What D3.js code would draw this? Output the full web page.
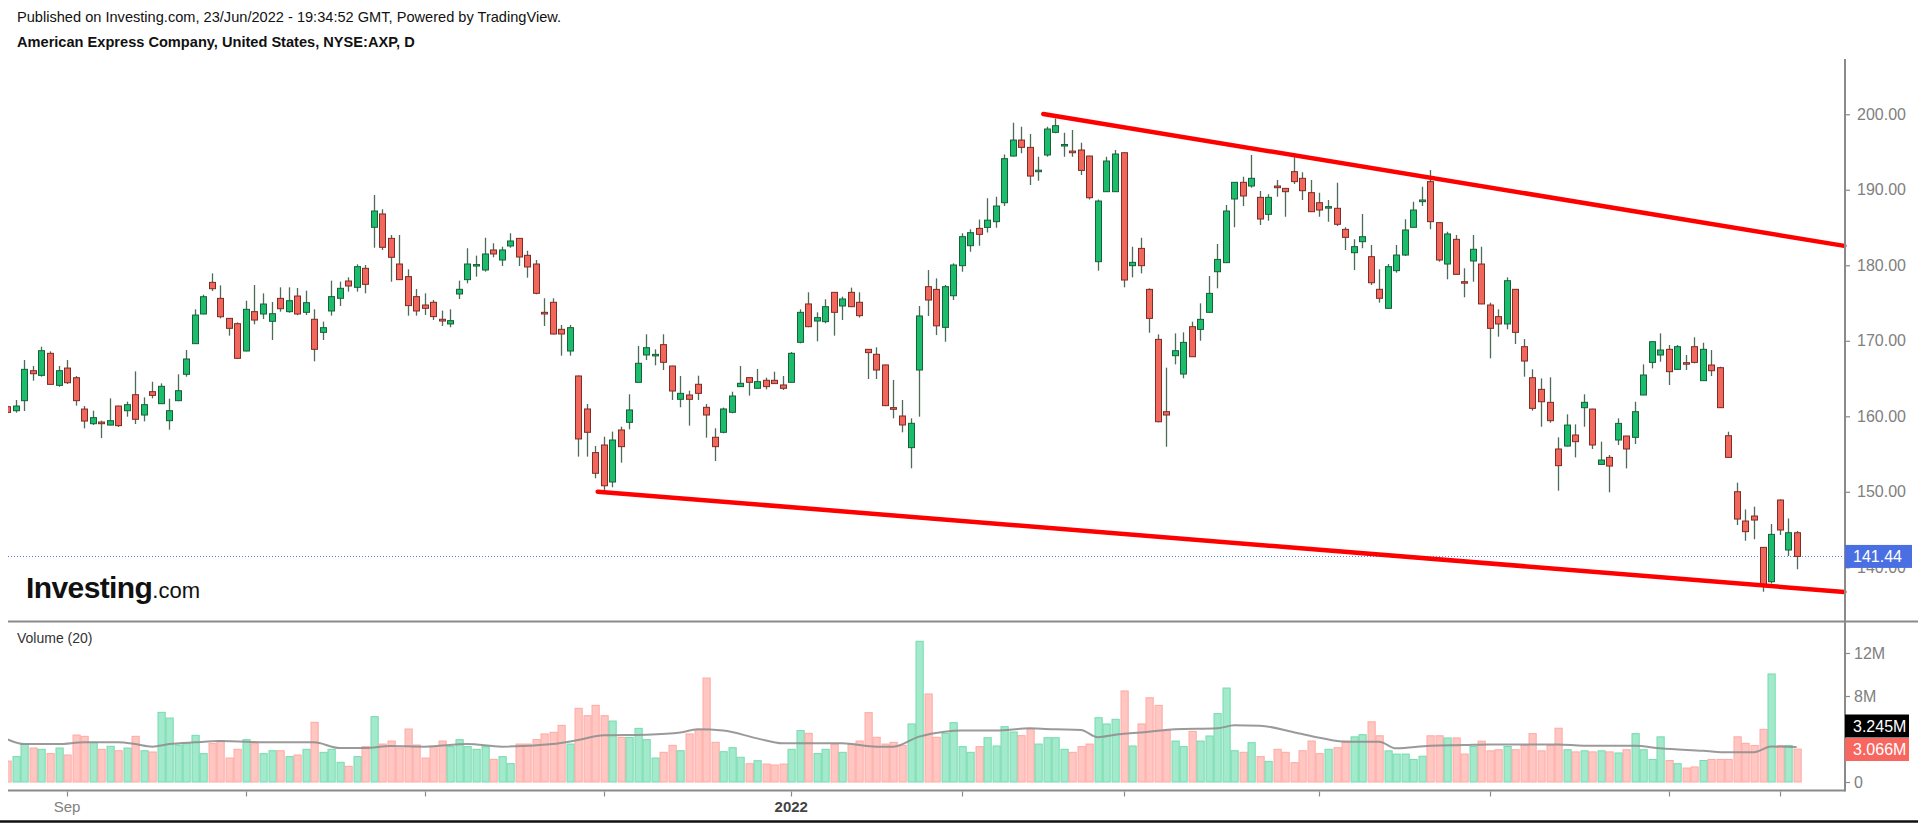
<!DOCTYPE html>
<html><head><meta charset="utf-8">
<script src="https://cdn.jsdelivr.net/npm/d3@7"></script>
<style>
html,body{margin:0;padding:0;background:#fff;overflow:hidden;}
svg{display:block;font-family:"Liberation Sans",Arial,sans-serif;}
</style></head><body>
<svg id="chart" width="1918" height="824"></svg>
<script>
// ---- DATA (daily bars, 23 Aug 2021 .. 23 Jun 2022) ----
const opens = [161.27,160.74,162.07,166.04,165.42,168.34,164.10,166.39,165.11,160.96,
159.02,159.24,158.84,161.36,160.74,162.86,160.17,163.26,161.67,159.42,
162.07,165.56,169.62,173.55,177.74,175.62,172.97,172.27,168.65,173.86,
173.55,172.58,175.62,173.86,175.93,173.77,172.85,171.12,173.95,175.63,
177.92,177.08,179.60,185.03,186.80,183.57,180.17,178.50,175.85,174.74,
175.10,172.85,172.23,176.20,178.10,180.00,179.38,182.03,180.70,182.56,
183.57,181.32,180.17,173.77,175.10,171.52,168.65,165.34,160.97,155.19,
156.20,151.30,158.19,159.20,164.50,168.12,168.00,169.49,166.66,162.25,
162.82,164.24,161.19,157.22,157.88,160.53,163.93,165.12,163.71,164.77,
164.77,164.15,164.50,169.80,174.88,172.62,172.54,176.42,174.61,176.42,
175.10,168.87,168.21,166.80,161.15,160.04,155.85,166.13,177.17,176.81,
171.78,175.97,179.95,182.60,184.89,185.02,185.78,188.29,194.47,196.59,
195.62,192.40,194.61,197.61,195.80,195.13,195.27,194.47,180.48,189.75,
189.75,194.91,179.95,182.24,176.81,170.19,160.61,168.03,165.60,171.87,
171.51,173.77,179.15,180.35,188.78,190.99,190.50,189.00,186.75,190.50,
190.19,192.40,191.52,189.62,188.29,187.65,187.55,184.76,181.67,183.13,
181.14,176.82,174.30,179.29,181.36,185.03,188.43,191.08,185.65,180.17,
183.44,177.83,180.57,180.17,174.74,173.20,172.23,176.82,169.22,165.11,
163.57,161.85,155.67,156.06,157.52,161.14,160.96,153.63,154.56,156.86,
157.39,157.21,162.82,167.14,168.12,168.87,166.22,167.10,169.22,164.72,
166.79,166.44,157.43,150.01,146.13,146.79,142.64,138.09,148.91,142.29,
144.58];
const highs = [161.45,162.16,167.45,166.66,169.22,168.60,166.66,167.45,165.33,161.36,
160.74,159.42,162.38,161.40,161.94,165.95,162.51,164.58,164.36,162.33,
165.56,168.78,174.17,176.11,178.93,177.34,173.00,172.44,175.31,177.39,
176.28,175.14,177.08,177.08,177.00,176.64,174.17,172.54,177.97,177.83,
178.41,180.13,180.04,189.31,187.41,184.02,184.02,179.47,176.86,176.29,
175.41,174.00,174.17,177.97,182.25,181.28,183.66,182.91,182.47,184.24,
183.60,181.94,180.70,175.63,175.63,172.10,172.10,165.40,161.63,156.07,
157.30,157.97,158.63,162.91,169.31,170.86,168.87,170.86,166.70,165.34,
163.40,165.38,161.63,158.41,161.15,163.26,166.66,165.20,166.27,165.12,
165.91,165.34,168.52,174.17,176.42,173.77,175.50,176.45,175.85,177.04,
176.42,168.90,169.14,166.85,164.81,162.16,159.73,174.61,179.37,178.27,
177.39,180.26,184.23,184.76,186.08,188.87,189.09,194.69,198.89,198.36,
197.39,194.39,198.36,199.46,197.56,197.92,196.24,194.50,188.73,194.39,
195.27,194.95,182.46,183.66,176.95,170.85,166.44,170.98,171.12,172.53,
174.96,178.58,182.82,187.99,191.00,191.74,194.61,189.84,189.40,191.30,
190.20,194.30,192.31,191.30,189.62,188.65,190.95,185.03,183.44,186.79,
182.69,179.47,180.17,182.69,186.09,188.43,190.41,192.62,185.70,184.46,
184.01,179.60,184.01,182.47,175.05,174.17,178.41,176.85,170.23,166.22,
165.02,165.16,157.21,160.26,158.93,162.91,161.00,156.64,154.87,159.73,
157.40,161.93,166.88,169.90,170.98,169.44,169.44,168.12,170.46,169.75,
168.78,166.57,157.96,151.21,147.67,148.03,142.70,145.73,149.00,146.48,
144.80];
const lows = [160.35,160.48,160.70,164.72,165.25,164.20,163.92,164.28,161.41,158.40,
158.85,157.12,158.80,158.58,159.95,158.98,159.33,162.38,161.63,158.23,
162.00,165.25,169.60,173.50,176.59,172.97,170.68,167.60,168.60,172.18,
172.88,170.10,173.86,173.72,173.40,173.42,167.28,170.11,173.33,174.61,
176.51,176.51,176.29,182.34,182.03,177.83,178.05,173.33,173.33,173.42,
172.76,171.96,171.79,175.54,177.61,178.50,179.16,181.06,179.91,182.34,
179.91,178.36,176.16,171.96,170.85,168.03,168.03,154.66,154.66,151.79,
150.02,150.60,153.86,158.28,164.50,167.46,166.75,166.13,162.16,161.19,
158.76,162.16,157.17,154.08,157.75,160.40,163.90,162.74,163.70,163.57,
164.30,163.49,164.50,169.67,171.80,169.93,172.32,170.68,172.76,174.45,
173.07,164.94,164.94,161.35,159.73,157.88,153.11,159.95,173.28,170.76,
169.88,175.40,179.15,181.80,182.60,184.36,184.98,187.85,194.40,194.83,
190.63,191.20,194.39,197.48,194.39,194.39,191.96,188.73,179.28,189.70,
189.70,177.08,178.40,178.93,171.07,159.20,155.97,166.88,165.03,167.85,
170.01,173.75,176.95,180.30,185.03,187.85,190.28,185.34,185.91,189.09,
186.44,190.77,188.65,187.05,186.44,185.78,185.21,182.03,179.38,182.25,
177.39,175.05,174.28,179.02,181.23,185.00,187.85,184.76,180.48,178.14,
178.75,175.76,177.83,174.85,167.68,170.55,171.52,169.58,165.25,160.74,
158.62,159.15,150.15,156.00,154.56,158.62,155.67,153.60,149.93,156.20,
153.10,156.33,162.80,166.35,167.23,164.14,166.13,166.13,167.01,164.70,
165.33,161.10,154.50,145.60,143.52,143.70,136.77,137.87,144.27,141.49,
139.73];
const closes = [160.52,161.36,166.22,165.64,168.69,164.23,166.04,164.45,162.07,159.37,
159.82,159.02,159.42,158.76,161.54,159.60,161.54,162.77,163.97,160.74,
163.39,167.59,173.41,175.84,176.90,173.19,171.65,167.68,174.17,172.75,
174.87,173.59,174.25,175.31,173.55,175.05,168.87,171.74,175.85,176.95,
177.26,179.82,177.48,187.19,182.38,181.06,178.10,174.66,173.95,174.30,
173.20,172.62,172.67,176.82,180.17,180.10,181.50,181.50,182.03,183.22,
181.10,179.78,176.29,173.55,170.90,170.90,171.74,157.00,157.88,152.45,
150.80,156.86,155.98,160.84,167.02,169.09,168.20,167.15,163.35,163.04,
162.25,163.04,160.17,155.98,160.97,162.69,164.37,164.50,164.59,163.93,
164.33,163.71,168.34,173.77,171.87,173.07,174.52,173.77,175.54,174.52,
173.33,168.43,166.13,161.41,160.93,158.85,159.07,173.29,175.40,171.98,
177.17,180.04,183.79,184.32,184.10,185.98,187.85,194.12,196.59,195.62,
191.82,192.60,198.05,198.49,196.00,194.91,192.57,188.95,188.51,193.81,
194.74,178.05,180.39,179.95,172.97,159.28,160.17,168.69,169.79,167.89,
172.84,176.28,180.78,187.19,190.99,189.18,191.52,186.13,189.00,190.28,
189.75,191.08,189.88,187.10,187.32,187.77,185.43,183.70,182.47,183.79,
177.69,175.63,179.82,181.36,184.68,187.32,188.65,185.78,180.70,184.15,
178.80,177.65,182.12,174.88,171.65,172.23,177.96,171.12,167.32,161.05,
161.93,159.42,153.46,158.84,156.64,161.85,156.20,154.21,153.41,159.06,
155.67,160.61,165.47,169.88,168.78,165.91,169.22,166.92,167.14,168.87,
166.04,161.14,154.56,146.39,144.72,146.26,137.52,144.36,144.94,144.58,
141.44];
// volume in millions
const volumes = [1.95,2.36,3.53,3.16,3.04,2.64,3.16,2.51,4.37,4.25,
3.69,3.04,3.32,2.91,3.16,4.25,2.91,2.79,6.48,5.95,
3.44,3.57,4.34,2.64,3.57,3.81,2.23,3.04,3.94,3.57,
2.64,2.91,2.91,2.36,2.51,3.04,5.55,2.76,3.04,1.83,
1.46,2.36,3.29,6.08,3.53,3.81,3.16,4.93,3.44,2.23,
3.29,3.81,3.29,3.94,3.29,3.04,3.29,2.11,2.36,1.71,
3.53,3.53,3.94,4.47,4.62,5.27,3.53,6.85,6.17,7.13,
6.17,5.67,4.15,4.15,4.99,3.94,2.23,2.76,3.41,2.91,
4.47,4.84,9.67,3.69,2.82,3.19,2.30,1.70,1.98,1.67,
1.58,1.67,3.04,4.78,4.53,2.64,3.04,3.53,2.76,3.53,
3.81,6.45,4.16,3.53,3.69,3.41,5.40,13.09,8.19,4.16,
4.53,5.52,3.29,2.76,3.29,4.12,3.35,5.15,4.65,4.31,
4.93,3.53,4.12,4.12,3.04,2.76,3.29,3.53,5.98,5.40,
5.83,8.47,3.35,5.40,7.84,7.13,4.78,3.81,3.29,4.71,
3.81,4.28,6.36,8.74,2.91,2.76,3.66,2.36,1.92,3.04,
2.76,1.80,2.91,3.81,2.64,3.04,3.19,3.81,4.20,4.40,
5.60,4.30,2.90,2.60,2.60,2.10,2.40,4.30,4.30,4.10,
4.10,2.60,3.30,3.80,2.90,3.00,3.30,3.00,3.40,4.50,
2.90,3.40,5.00,3.00,2.80,2.90,2.80,2.90,2.80,2.70,
3.00,4.50,3.00,2.10,4.20,2.00,1.70,1.30,1.40,2.00,
2.10,2.10,2.10,4.20,3.60,3.40,4.90,10.05,3.38,3.40,
3.066];
// Volume moving average (20): bar index / value (M)
const maIdx = [0,2,6,9,13,15,17,19,22,25,31,36,39,42,45,49,54,58,64,67,70,75,79,81,84,88,91,98,102,104,107,110,112,116,120,123,126,128,130,134,137,142,144,147,151,154,157,161,163,167,171,174,182,185,191,194,199,202,205,207,210];
const maVal = [3.97,3.53,3.53,3.69,3.69,3.53,3.29,3.53,3.69,3.81,3.69,3.69,3.16,3.16,3.35,3.29,3.53,3.29,3.53,3.91,4.34,4.40,4.60,4.90,4.78,4.06,3.60,3.60,3.29,3.29,4.22,4.68,4.78,4.78,4.99,4.90,4.84,4.16,4.40,4.68,4.90,4.99,5.27,5.24,4.62,4.12,3.75,3.75,3.13,3.38,3.44,3.50,3.50,3.38,3.38,3.13,2.91,2.76,2.76,3.30,3.245];
// trend lines (bar index, price)
const upperTrendIdx = [121.58, 215.6];
const upperTrendPrice = [200.04, 182.57];
const lowerTrendIdx = [69.28, 215.6];
const lowerTrendPrice = [150.02, 136.73];
const priceTicks = [140,150,160,170,180,190,200];
const volTicks = [0,8,12];
const timeTickIdx = [7,28,49,70,92,112,131,154,174,195,208];
const timeTickLabels = ["Sep","","","","2022","","","","","",""];
const lastPrice = 141.44;
const lastVolLabel = "3.066M";
const lastMaLabel = "3.245M";
const titleLine1 = "Published on Investing.com, 23/Jun/2022 - 19:34:52 GMT, Powered by TradingView.";
const titleLine2 = "American Express Company, United States, NYSE:AXP, D";

// ---- LAYOUT ----
const svg = d3.select("#chart");
const L = 8, R = 1845;
const PT = 59, PB = 621.5;
const VB = 790.5;
const x = d3.scaleLinear().domain([0, 210]).range([7.4, 1796.6]);
const y = d3.scaleLinear().domain([140, 200]).range([567.3, 114.3]);
const yv = d3.scaleLinear().domain([0, 12]).range([782, 653]);

const UP = "#1bbd6c", UPB = "#17603a", DN = "#f2675c", DNB = "#7d2c26", WICK = "#4d6b59";
const VUP = "#a3e9cb", VUPB = "#74dcb0", VDN = "#ffc6c2", VDNB = "#ffa9a3";

const defs = svg.append("defs");
defs.append("clipPath").attr("id","pclip").append("rect").attr("x",L).attr("y",PT).attr("width",R-L).attr("height",PB-PT);
defs.append("clipPath").attr("id","vclip").append("rect").attr("x",L).attr("y",PB+1).attr("width",R-L).attr("height",VB-PB-1);

// titles
svg.append("text").attr("x",17).attr("y",22).attr("font-size",14.6).attr("fill","#111").text(titleLine1);
svg.append("text").attr("x",17).attr("y",46.5).attr("font-size",14.6).attr("font-weight","bold").attr("fill","#111").text(titleLine2);

const idx = d3.range(opens.length);

// ---- price pane ----
const pg = svg.append("g").attr("clip-path","url(#pclip)");
// last price dotted line
pg.append("line").attr("x1",L).attr("x2",R).attr("y1",Math.round(y(lastPrice))+0.5).attr("y2",Math.round(y(lastPrice))+0.5)
  .attr("stroke","#5a7de6").attr("stroke-width",1).attr("stroke-dasharray","1,2");
// wicks
pg.selectAll("line.wick").data(idx).join("line").attr("class","wick")
  .attr("x1",i=>Math.round(x(i))+0.5).attr("x2",i=>Math.round(x(i))+0.5)
  .attr("y1",i=>y(highs[i])).attr("y2",i=>y(lows[i]))
  .attr("stroke",WICK).attr("stroke-width",1.3);
// bodies
pg.selectAll("rect.body").data(idx).join("rect").attr("class","body")
  .attr("x",i=>Math.round(x(i))-2.5)
  .attr("y",i=>y(Math.max(opens[i],closes[i])))
  .attr("width",6)
  .attr("height",i=>Math.max(1.5, Math.abs(y(opens[i])-y(closes[i]))))
  .attr("fill",i=>closes[i]>=opens[i]?UP:DN)
  .attr("stroke",i=>closes[i]>=opens[i]?UPB:DNB).attr("stroke-width",1);
// trend lines
const tl = d3.line().x(d=>x(d[0])).y(d=>y(d[1]));
svg.append("path").attr("d",tl(upperTrendIdx.map((v,k)=>[v,upperTrendPrice[k]])))
  .attr("stroke","#ff0000").attr("stroke-width",4.5).attr("fill","none").attr("stroke-linecap","round");
svg.append("path").attr("d",tl(lowerTrendIdx.map((v,k)=>[v,lowerTrendPrice[k]])))
  .attr("stroke","#ff0000").attr("stroke-width",4.5).attr("fill","none").attr("stroke-linecap","round");

// Investing.com logo text
const logo = svg.append("text").attr("x",26).attr("y",598).attr("fill","#111");
logo.append("tspan").attr("font-size",30).attr("font-weight","bold").attr("letter-spacing","-0.6").text("Investing");
logo.append("tspan").attr("font-size",22).attr("font-weight","normal").text(".com");

// ---- volume pane ----
svg.append("text").attr("x",17).attr("y",643).attr("font-size",14).attr("fill","#333").text("Volume (20)");
const vg = svg.append("g").attr("clip-path","url(#vclip)");
vg.selectAll("rect.vol").data(idx).join("rect").attr("class","vol")
  .attr("x",i=>Math.round(x(i))-3)
  .attr("y",i=>yv(volumes[i]))
  .attr("width",7.2)
  .attr("height",i=>yv(0)-yv(volumes[i]))
  .attr("fill",i=>closes[i]>=opens[i]?VUP:VDN)
  .attr("stroke",i=>closes[i]>=opens[i]?VUPB:VDNB).attr("stroke-width",1);
vg.append("path").attr("d",d3.line().x(d=>x(d[0])).y(d=>yv(d[1])).curve(d3.curveMonotoneX)(maIdx.map((v,k)=>[v,maVal[k]])))
  .attr("fill","none").attr("stroke","#8f8f8f").attr("stroke-width",2).attr("stroke-opacity",0.9);

// ---- frame lines ----
svg.append("line").attr("x1",L).attr("x2",1918).attr("y1",PB).attr("y2",PB).attr("stroke","#8a8a8a").attr("stroke-width",2);
svg.append("line").attr("x1",L).attr("x2",R).attr("y1",VB).attr("y2",VB).attr("stroke","#8a8a8a").attr("stroke-width",2);
svg.append("line").attr("x1",R).attr("x2",R).attr("y1",PT).attr("y2",VB+1).attr("stroke","#8a8a8a").attr("stroke-width",2);
svg.append("line").attr("x1",0).attr("x2",1918).attr("y1",821.5).attr("y2",821.5).attr("stroke","#111").attr("stroke-width",2.5);

// ---- price axis ----
const pAxis = svg.append("g").attr("transform",`translate(${R},0)`)
  .call(d3.axisRight(y).tickValues(priceTicks).tickFormat(d3.format(".2f")).tickSize(5).tickPadding(7));
pAxis.select(".domain").remove();
pAxis.selectAll("line").attr("stroke","#8a8a8a").attr("stroke-width",1.2);
pAxis.selectAll("text").attr("font-size",16).attr("fill","#808080").attr("font-family","Liberation Sans, Arial, sans-serif");

// ---- volume axis ----
const vAxis = svg.append("g").attr("transform",`translate(${R},0)`)
  .call(d3.axisRight(yv).tickValues(volTicks).tickFormat(d=>d===0?"0":d+"M").tickSize(5).tickPadding(4));
vAxis.select(".domain").remove();
vAxis.selectAll("line").attr("stroke","#8a8a8a").attr("stroke-width",1.2);
vAxis.selectAll("text").attr("font-size",16).attr("fill","#808080").attr("font-family","Liberation Sans, Arial, sans-serif");

// ---- value labels on axes ----
function axisLabel(cy, w, bg, txt){
  svg.append("rect").attr("x",R).attr("y",cy-11.5).attr("width",w).attr("height",23).attr("fill",bg);
  svg.append("text").attr("x",R+8).attr("y",cy+5.5).attr("font-size",16).attr("fill","#fff").text(txt);
}
axisLabel(y(lastPrice), 67, "#4a6fe3", d3.format(".2f")(lastPrice));
axisLabel(726, 64, "#000", lastMaLabel);
axisLabel(749.5, 64, "#f7675f", lastVolLabel);

// ---- time axis ----
const tg = svg.append("g");
tg.selectAll("line").data(timeTickIdx).join("line")
  .attr("x1",i=>Math.round(x(i))+0.5).attr("x2",i=>Math.round(x(i))+0.5).attr("y1",VB+1).attr("y2",VB+6)
  .attr("stroke","#8a8a8a").attr("stroke-width",1.2);
tg.selectAll("text").data(timeTickIdx).join("text")
  .attr("x",i=>x(i)).attr("y",812).attr("text-anchor","middle").attr("font-size",15)
  .attr("font-weight",(d,k)=>timeTickLabels[k]==="2022"?"bold":"normal")
  .attr("fill",(d,k)=>timeTickLabels[k]==="2022"?"#444":"#808080")
  .text((d,k)=>timeTickLabels[k]);
</script>
</body></html>
